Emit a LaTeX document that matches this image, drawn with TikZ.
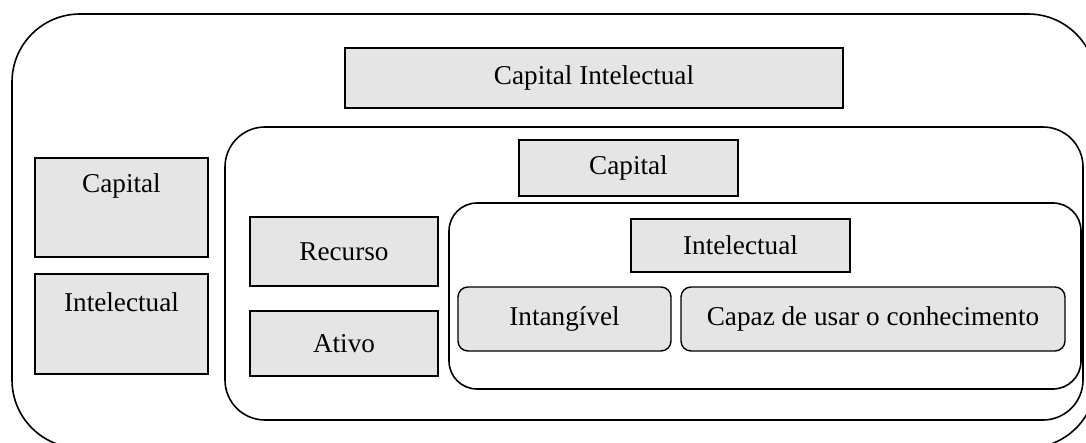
\documentclass[tikz,border=0pt]{standalone}
\usepackage{fontspec}
\setmainfont{Liberation Serif}
\usetikzlibrary{positioning}

\tikzset{
  txt/.style={font=\fontsize{13.6}{16}\selectfont},
  cbox/.style={txt, draw, fill=black!10, line width=0.7pt, inner sep=0pt},
  rbox/.style={cbox, rounded corners=5pt},
  frame/.style={draw, line width=0.8pt},
}

\begin{document}
\begin{tikzpicture}[x=0.5pt, y=-0.5pt]
  \useasboundingbox (0,0) rectangle (1086,443);

  % Frames
  \draw[frame, rounded corners=34pt] (12,14) rectangle (1096,448);
  \draw[frame, rounded corners=20pt] (225,127) rectangle (1083,420);
  \draw[frame, rounded corners=14pt] (449,203) rectangle (1081,389);

  % Top title
  \node[cbox, minimum width=249pt, minimum height=30pt] (capint) at (594,78) {Capital Intelectual};

  % Left column
  \node[cbox, minimum width=86.5pt, minimum height=49.5pt] (capL) at (121.5,207.5) {};
  \node[txt] (capLtxt) at (121.5,186) {Capital};
  \node[cbox, minimum width=86.5pt, minimum height=50pt] (intL) at (121.5,324) {};
  \node[txt] (intLtxt) at (121.5,302) {Intelectual};

  % Middle frame
  \node[cbox, minimum width=109.5pt, minimum height=28pt] (cap) at (628.5,168) {Capital};
  \node[cbox, minimum width=94pt, minimum height=34.5pt] (recurso) at (344,251.5) {Recurso};
  \node[cbox, minimum width=94pt, minimum height=32.5pt] (ativo) at (344,343.5) {Ativo};

  % Inner frame
  \node[cbox, minimum width=109.5pt, minimum height=26.5pt] (int) at (740.5,245.5) {Intelectual};
  \node[rbox, minimum width=106.5pt, minimum height=32pt] (intang) at (564.5,319) {Intang\'ivel};
  \node[rbox, minimum width=192pt, minimum height=32pt] (capaz) at (873,319) {Capaz de usar o conhecimento};
\end{tikzpicture}
\end{document}
